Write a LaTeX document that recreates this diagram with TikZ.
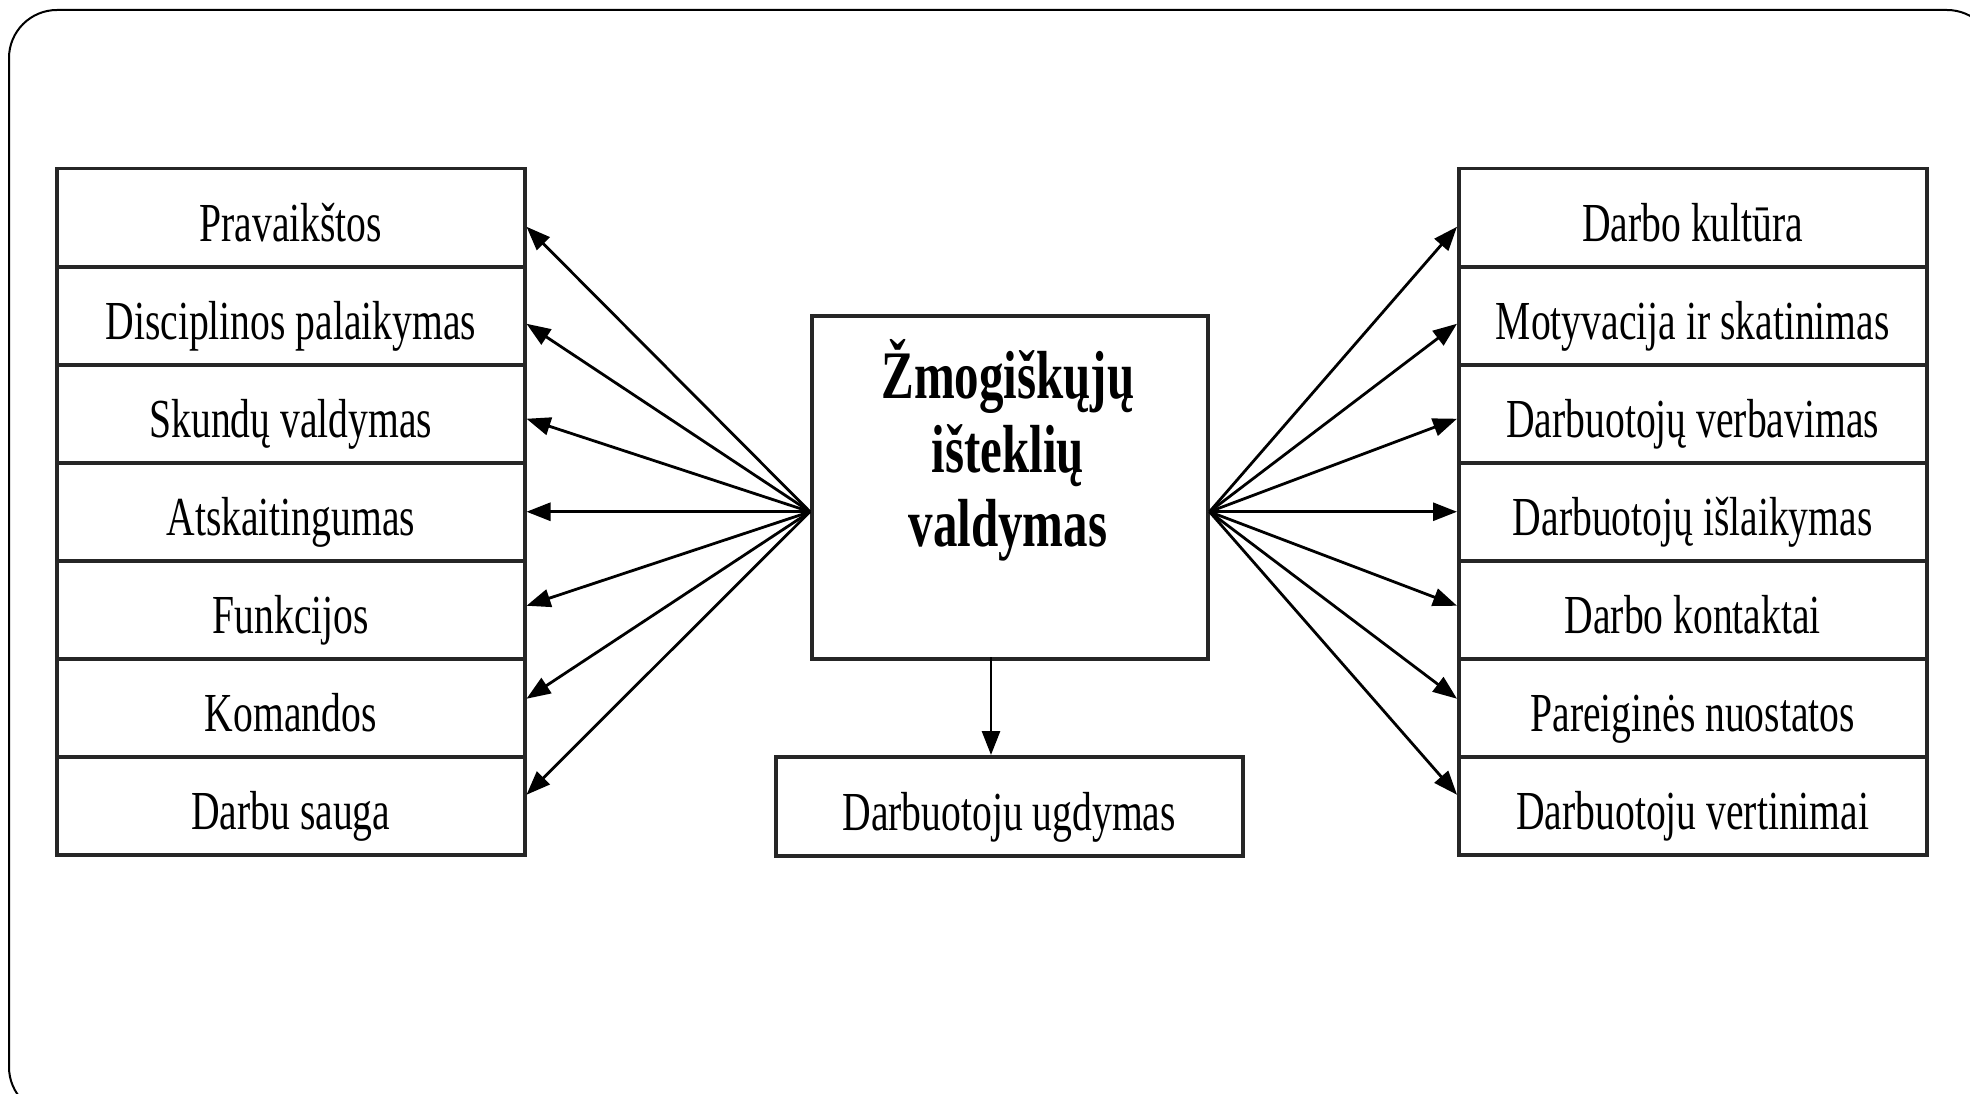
\documentclass[tikz,border=0pt]{standalone}
\usepackage{fontspec}
\setmainfont{Liberation Serif}
\newfontfamily\condfont[FakeStretch=0.72]{Liberation Serif}
\usetikzlibrary{arrows.meta}
\begin{document}
\begin{tikzpicture}[x=1pt,y=-1pt,
  rowbox/.style={draw=black!85, line width=3.5pt, minimum width=468pt, minimum height=98pt,
    inner sep=0pt, anchor=north west, text height=48pt, text depth=0pt,
    font=\condfont\fontsize{55}{60}\selectfont},
  mainbox/.style={draw=black!85, line width=3.5pt, inner sep=0pt, anchor=north west},
  arr/.style={line width=2.8pt, -{Triangle[length=24pt,width=18pt]}}]
\useasboundingbox (0,0) rectangle (1970,1094);
\draw[line width=2pt, rounded corners=48pt] (9,10) rectangle (1995,1115);
% left column
\node[rowbox] (L1) at (55,167) {Pravaikštos};
\node[rowbox] (L2) at (55,265) {Disciplinos palaikymas};
\node[rowbox] (L3) at (55,363) {Skundų valdymas};
\node[rowbox] (L4) at (55,461) {Atskaitingumas};
\node[rowbox] (L5) at (55,559) {Funkcijos};
\node[rowbox] (L6) at (55,657) {Komandos};
\node[rowbox] (L7) at (55,755) {Darbu sauga};
% right column
\node[rowbox] (R1) at (1457,167) {Darbo kultūra};
\node[rowbox] (R2) at (1457,265) {Motyvacija ir skatinimas};
\node[rowbox] (R3) at (1457,363) {Darbuotojų verbavimas};
\node[rowbox] (R4) at (1457,461) {Darbuotojų išlaikymas};
\node[rowbox] (R5) at (1457,559) {Darbo kontaktai};
\node[rowbox] (R6) at (1457,657) {Pareiginės nuostatos};
\node[rowbox] (R7) at (1457,755) {Darbuotoju vertinimai};
% centre
\node[mainbox, minimum width=396pt, minimum height=343pt] (C) at (810,314) {};
\node[align=center, font=\condfont\bfseries\fontsize{68}{74}\selectfont] (CT) at (1008,450)
  {Žmogiškųjų\\išteklių\\valdymas};
\node[rowbox, minimum width=467pt, minimum height=99pt] (B) at (774,755) {Darbuotoju ugdymas};
% arrows
\coordinate (cl) at (C.west |- L4.east);
\coordinate (cr) at (C.east |- R4.west);
\foreach \i/\o in {1/9,2/8,3/5,4/0,5/-4,6/-9,7/-11} {
  \draw[arr] (cl) -- ([yshift=-\o pt]L\i.east);
  \draw[arr] (cr) -- ([yshift=-\o pt]R\i.west);
}
\coordinate (cb) at (991,657);
\draw[arr] (cb) -- (cb |- B.north);
\end{tikzpicture}
\end{document}
